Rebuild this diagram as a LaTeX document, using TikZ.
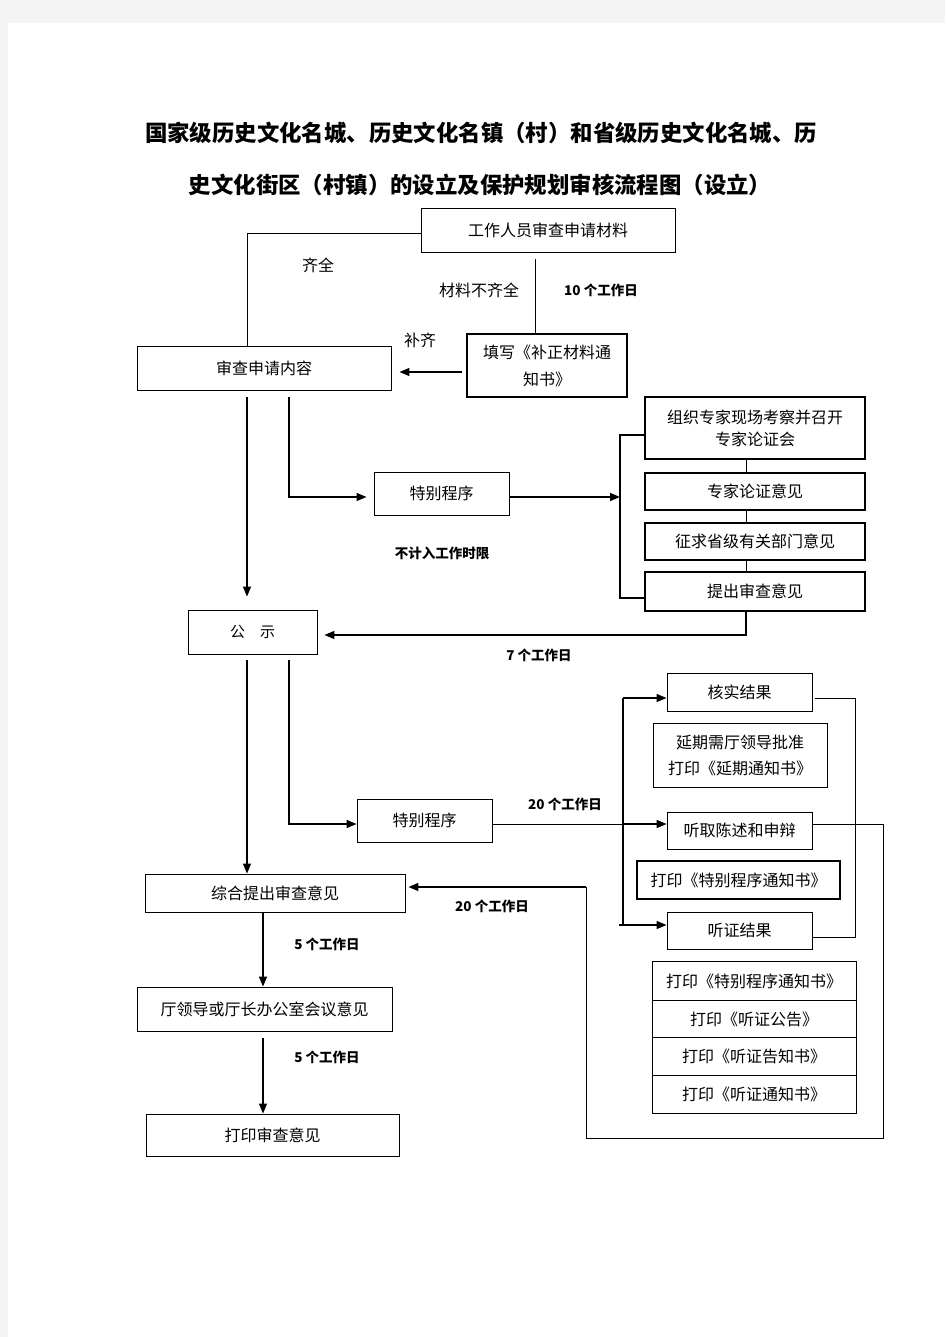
\documentclass[tikz,border=0pt]{standalone}
\usepackage{fontspec}
\setmainfont{Noto Sans CJK SC}
\usetikzlibrary{arrows.meta}
\definecolor{pagegrey}{HTML}{F4F4F4}
\begin{document}
\begin{tikzpicture}[x=1pt,y=-1pt,
  box/.style={draw, line width=0.9pt, inner sep=0pt, align=center, font=\fontsize{16}{22}\selectfont},
  thickbox/.style={box, line width=1.6pt},
  arr/.style={-{Triangle[length=10pt,width=8pt]}, line width=1.4pt},
  conn/.style={line width=0.9pt},
  lbl/.style={font=\fontsize{16}{20}\selectfont, inner sep=0pt},
  small/.style={font=\bfseries\fontsize{13.5}{16}\selectfont, inner sep=0pt},
  ttl/.style={font=\bfseries\fontsize{22.4}{26}\selectfont, inner sep=0pt},
  ]
\fill[pagegrey] (0,0) rectangle (945,1337);
\fill[white] (8,23) rectangle (945,1337);
\useasboundingbox (0,0) rectangle (945,1337);

% title
\node[ttl] (t1) at (481,133) {国家级历史文化名城、历史文化名镇（村）和省级历史文化名城、历};
\node[ttl] (t2) at (480,185) {史文化街区（村镇）的设立及保护规划审核流程图（设立）};

% top part
\node[box, minimum width=254pt, minimum height=44pt] (A) at (548,230) {工作人员审查申请材料};
\node[box, minimum width=254pt, minimum height=44pt] (B) at (264,368) {审查申请内容};
\node[thickbox, minimum width=160pt, minimum height=63pt, font=\fontsize{16}{27}\selectfont] (C) at (547,365.5) {填写《补正材料通\\知书》};

\node[lbl] (l1) at (318,265) {齐全};
\node[lbl] (l2) at (479,290) {材料不齐全};
\node[small] (l3) at (601,290) {10 个工作日};
\node[lbl] (l4) at (420,340) {补齐};

% special procedure 1
\node[box, minimum width=135pt, minimum height=43pt] (S1) at (441.5,493.5) {特别程序};
\node[small] (l5) at (442,553) {不计入工作时限};

\node[thickbox, minimum width=220pt, minimum height=62pt] (D1) at (755,428) {组织专家现场考察并召开\\专家论证会};
\node[thickbox, minimum width=220pt, minimum height=37pt] (D2) at (755,491.5) {专家论证意见};
\node[thickbox, minimum width=220pt, minimum height=37pt] (D3) at (755,541.5) {征求省级有关部门意见};
\node[thickbox, minimum width=220pt, minimum height=39pt] (D4) at (755,591.5) {提出审查意见};

% publicity
\node[box, minimum width=129pt, minimum height=44pt, font=\fontsize{15}{20}\selectfont] (P) at (252.5,632) {公　示};
\node[small] (l6) at (539,655) {7 个工作日};

% special procedure 2
\node[box, minimum width=135pt, minimum height=43pt] (S2) at (424.5,820.5) {特别程序};
\node[small] (l7) at (565,804) {20 个工作日};

\node[box, minimum width=145pt, minimum height=38pt] (H1) at (739.5,692) {核实结果};
\node[box, minimum width=174pt, minimum height=64pt, font=\fontsize{16}{26}\selectfont] (H2) at (740,755) {延期需厅领导批准\\打印《延期通知书》};
\node[box, minimum width=145pt, minimum height=37pt] (H3) at (739.5,830.5) {听取陈述和申辩};
\node[box, line width=1.3pt, minimum width=203pt, minimum height=38pt] (H4) at (738.5,880) {打印《特别程序通知书》};
\node[box, minimum width=145pt, minimum height=37pt] (H5) at (739.5,930.5) {听证结果};

\node[box, minimum width=204pt, minimum height=38.5pt] (K1) at (754,981) {打印《特别程序通知书》};
\node[box, minimum width=204pt, minimum height=37pt] (K2) at (754,1019) {打印《听证公告》};
\node[box, minimum width=204pt, minimum height=38pt] (K3) at (754,1056.5) {打印《听证告知书》};
\node[box, minimum width=204pt, minimum height=37.5pt] (K4) at (754,1094.5) {打印《听证通知书》};

% bottom left
\node[box, minimum width=260pt, minimum height=38pt] (E) at (275,893) {综合提出审查意见};
\node[small] (l8) at (492,906) {20 个工作日};
\node[box, minimum width=255pt, minimum height=44pt] (F) at (264.5,1009) {厅领导或厅长办公室会议意见};
\node[small] (l9) at (327,944) {5 个工作日};
\node[box, minimum width=253pt, minimum height=42pt] (G) at (272.5,1135) {打印审查意见};
\node[small] (l10) at (327,1057) {5 个工作日};

% coordinates for bends
\coordinate (br1m) at (620,497);
\coordinate (br1t) at (620,435);
\coordinate (br1b) at (620,598);
\coordinate (br2t) at (623,698);
\coordinate (br2b) at (623,925);
\coordinate (br2s) at (619,925);
\coordinate (rb1) at (855,698);
\coordinate (rb2) at (855,937);
\coordinate (lp1) at (883,824);
\coordinate (lp2) at (883,1138);
\coordinate (lp3) at (586,1138);
\coordinate (lp4) at (586,887);

% connectors, top
\draw[conn] (A.west |- 0,233) -| ([xshift=-17pt]B.north);
\draw[conn] ([xshift=-13pt,yshift=-7pt]A.south) -- ([xshift=-12pt]C.north);
\draw[arr] ([xshift=-4pt,yshift=-6.5pt]C.west) -- ([xshift=8pt,yshift=-4pt]B.east);

% from B
\draw[arr] ([xshift=-17pt,yshift=-7pt]B.south) -- ([xshift=-5.5pt,yshift=13pt]P.north);
\draw[arr] ([xshift=25pt,yshift=-7pt]B.south) |- ([xshift=-7pt,yshift=-3.5pt]S1.west);
\draw[arr] ([yshift=-3.5pt]S1.east) -- (br1m);
\draw[line width=1.6pt] ([yshift=-7pt]D1.west) -- (br1t) -- (br1b) -- ([yshift=-6.5pt]D4.west);
\draw[conn] ([xshift=-9pt]D1.south) -- ([xshift=-9pt]D2.north);
\draw[conn] ([xshift=-9pt]D2.south) -- ([xshift=-9pt]D3.north);
\draw[conn] ([xshift=-9pt]D3.south) -- ([xshift=-9pt]D4.north);
\draw[arr] ([xshift=-9pt]D4.south) |- ([xshift=7pt,yshift=-3pt]P.east);

% from P
\draw[arr] ([xshift=-5.5pt,yshift=-6pt]P.south) -- ([xshift=-28pt]E.north);
\draw[arr] ([xshift=36.5pt,yshift=-6pt]P.south) |- ([yshift=-3.5pt]S2.west);
\draw[conn] ([yshift=-3.5pt]S2.east) -- ([yshift=-3.5pt]S2.east -| br2t);
\draw[arr] ([yshift=-3.5pt]S2.east -| br2t) -- ([yshift=6.5pt]H3.west);
\draw[line width=1.4pt] (br2t) -- (br2b);
\draw[arr] (br2t) -- ([yshift=-6pt]H1.west);
\draw[arr] (br2s) -- ([yshift=5.5pt]H5.west);
\draw[conn] ([xshift=3pt,yshift=-6pt]H1.east) -- (rb1) -- (rb2) -- ([yshift=-6.5pt]H5.east);
\draw[conn] ([yshift=6.5pt]H3.east) -- (lp1) -- (lp2) -- (lp3) -- (lp4);
\draw[arr] (lp4) -- ([xshift=3pt,yshift=6pt]E.east);

% bottom left
\draw[arr] ([xshift=-12pt]E.south) -- ([xshift=-1.5pt]F.north);
\draw[arr] ([xshift=-1.5pt,yshift=-7pt]F.south) -- ([xshift=-9.5pt]G.north);
\end{tikzpicture}
\end{document}
